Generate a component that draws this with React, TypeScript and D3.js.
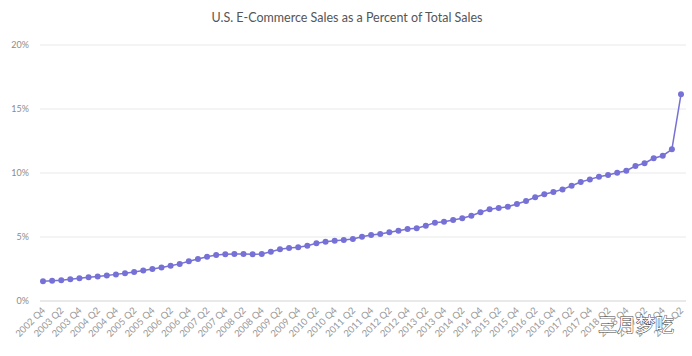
import React from "react";
import * as d3 from "d3";

const quarters: string[] = [];
for (let y = 2002; y <= 2020; y++) {
  for (let q = 1; q <= 4; q++) {
    if ((y === 2002 && q < 4) || (y === 2020 && q > 2)) continue;
    quarters.push(`${y} Q${q}`);
  }
}

const ecomShare: number[] = [
  1.55, 1.58, 1.62, 1.7, 1.78, 1.85, 1.92, 2.0, 2.08, 2.17,
  2.27, 2.38, 2.5, 2.62, 2.75, 2.9, 3.1, 3.28, 3.46, 3.6,
  3.65, 3.67, 3.67, 3.65, 3.67, 3.85, 4.04, 4.14, 4.2, 4.32,
  4.51, 4.63, 4.71, 4.77, 4.84, 5.02, 5.16, 5.23, 5.37, 5.48,
  5.63, 5.68, 5.88, 6.12, 6.2, 6.33, 6.46, 6.66, 6.93, 7.16,
  7.27, 7.37, 7.58, 7.81, 8.1, 8.34, 8.52, 8.72, 9.0, 9.3,
  9.5, 9.7, 9.84, 10.02, 10.18, 10.55, 10.76, 11.15, 11.35, 11.85,
  16.15,
];

const yTicks: number[] = [0, 5, 10, 15, 20];
const title = "U.S. E-Commerce Sales as a Percent of Total Sales";
const watermark = "三月梦吃";

export default function App() {
  const W = 692;
  const H = 356;
  const x = d3
    .scalePoint<string>()
    .domain(quarters)
    .range([43, 681]);
  const y = d3.scaleLinear().domain([0, 20]).range([301, 45]);
  const color = "#7671d6";
  const line = d3
    .line<number>()
    .x((_, i) => x(quarters[i]) as number)
    .y((d) => y(d));

  return (
    <svg
      width={W}
      height={H}
      style={{ position: "absolute", left: 0, top: 0, background: "#fff" }}
      fontFamily="Lato, 'Open Sans', sans-serif"
    >
      <text x={347} y={22} textAnchor="middle" fontSize={12.5} fill="#555">
        {title}
      </text>
      {yTicks.map((t) => (
        <g key={t}>
          <line
            x1={40}
            x2={686}
            y1={y(t)}
            y2={y(t)}
            stroke={t === 0 ? "#d3d3d3" : "#e9e9e9"}
            strokeWidth={1}
          />
          <text
            x={29}
            y={y(t) + 3}
            textAnchor="end"
            fontSize={9}
            fill="#8c8c8c"
          >
            {`${t}%`}
          </text>
        </g>
      ))}
      {quarters.map((q, i) =>
        i % 2 === 0 ? (
          <text
            key={q}
            transform={`translate(${(x(q) as number) + 3},${311}) rotate(-45)`}
            textAnchor="end"
            fontSize={9.5}
            fill="#999"
          >
            {q}
          </text>
        ) : null
      )}
      <path
        d={line(ecomShare) || ""}
        fill="none"
        stroke={color}
        strokeWidth={1.5}
      />
      {ecomShare.map((v, i) => (
        <circle
          key={i}
          cx={x(quarters[i]) as number}
          cy={y(v)}
          r={3}
          fill={color}
        />
      ))}
      <text
        x={636}
        y={332}
        textAnchor="middle"
        fontSize={19}
        fontFamily="'Noto Sans CJK SC', sans-serif"
        fill="#fff"
        stroke="#444"
        strokeWidth={1}
        paintOrder="stroke"
      >
        {watermark}
      </text>
    </svg>
  );
}
